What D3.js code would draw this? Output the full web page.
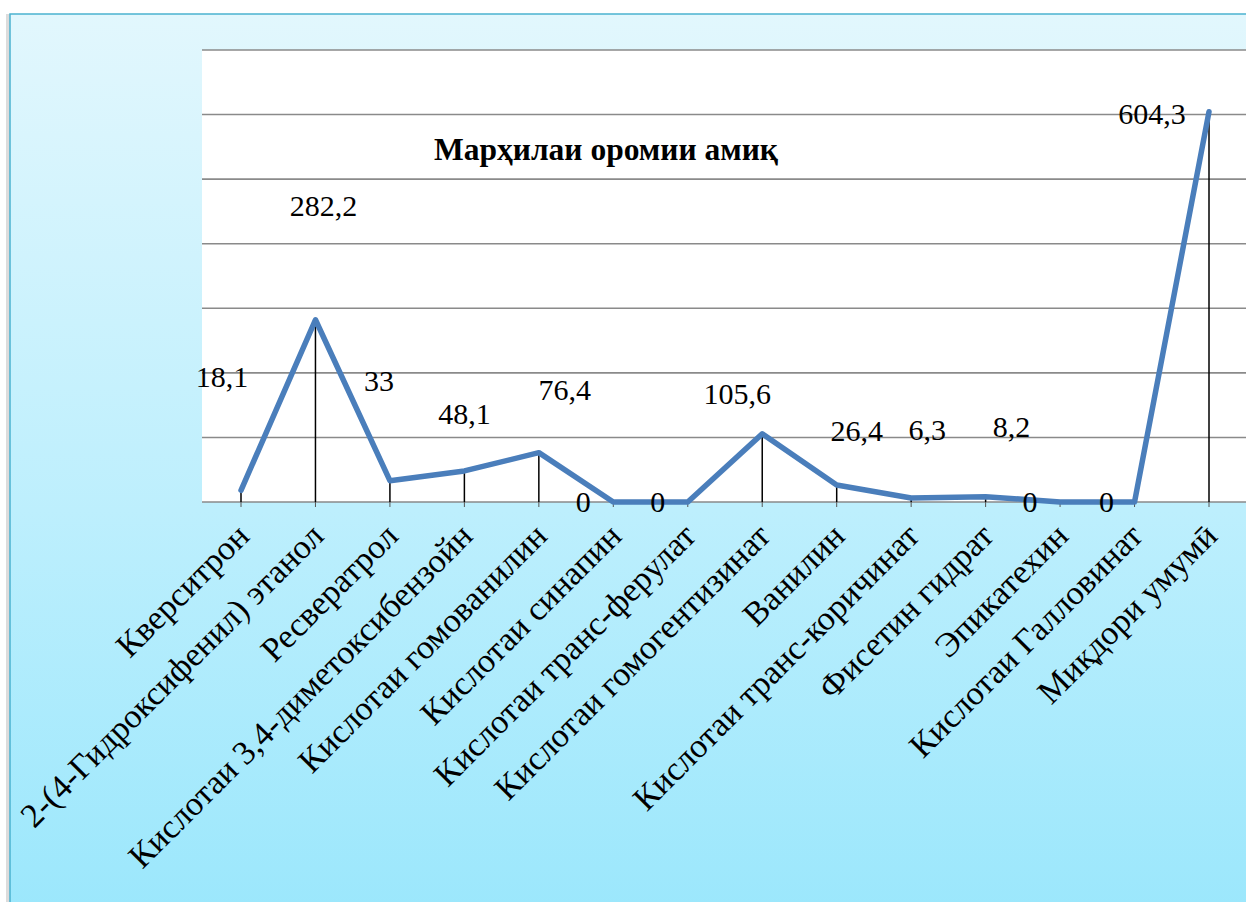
<!DOCTYPE html>
<html><head><meta charset="utf-8">
<script src="https://cdn.jsdelivr.net/npm/d3@7"></script>
<style>body{margin:0;background:#fff;}svg{display:block;}</style>
</head><body>
<svg id="c" width="1246" height="902" style="font-family:'Liberation Serif'"></svg>
<script>
const categories = ["Кверситрон","2-(4-Гидроксифенил) этанол","Ресвератрол","Кислотаи 3,4-диметоксибензойн","Кислотаи гомованилин","Кислотаи синапин","Кислотаи транс-ферулат","Кислотаи гомогентизинат","Ванилин","Кислотаи транс-коричинат","Фисетин  гидрат","Эпикатехин","Кислотаи Галловинат","Миқдори умумӣ"];
const values = [18.1,282.2,33,48.1,76.4,0,0,105.6,26.4,6.3,8.2,0,0,604.3];
const valueLabels = ["18,1","282,2","33","48,1","76,4","0","0","105,6","26,4","6,3","8,2","0","0","604,3"];
const yTicks = [0,100,200,300,400,500,600,700];
const title = "Марҳилаи оромии амиқ";
// label offsets from each point (dx, dy) in px
const labelOffsets = [[-19,-113],[8,-114],[-11,-100],[0,-57],[26,-63],[-30,0],[-30,0],[-25,-40],[20,-54],[16,-68],[26,-70],[-30,0],[-28,0],[-57,2]];

const svg = d3.select("#c");
const W = 1246, H = 902;
const plot = {left: 202, right: 1247, top: 50, bottom: 502};

const x = d3.scalePoint().domain(categories).range([plot.left+39, plot.right-38]);
const y = d3.scaleLinear().domain([0,700]).range([plot.bottom, plot.top]);

const defs = svg.append("defs");
const grad = defs.append("linearGradient").attr("id","bgGrad").attr("x1",0).attr("y1",0).attr("x2",0).attr("y2",1);
grad.append("stop").attr("offset","0%").attr("stop-color","#e2f7fd");
grad.append("stop").attr("offset","55%").attr("stop-color","#bdeffd");
grad.append("stop").attr("offset","100%").attr("stop-color","#9be7fc");

// soft shadow left of frame
svg.append("rect").attr("x",6).attr("y",14).attr("width",4).attr("height",H).attr("fill","#dcdcdc");
svg.append("rect").attr("x",10).attr("y",14).attr("width",W).attr("height",H)
  .attr("fill","url(#bgGrad)").attr("stroke","#4bb3cf").attr("stroke-width",1.5);

svg.append("rect").attr("x",plot.left).attr("y",plot.top).attr("width",plot.right-plot.left).attr("height",plot.bottom-plot.top).attr("fill","#fff");

// gridlines
svg.append("g").selectAll("line").data(yTicks).join("line")
  .attr("x1",plot.left).attr("x2",plot.right)
  .attr("y1",d=>y(d)).attr("y2",d=>y(d))
  .attr("stroke","#8a8a8a").attr("stroke-width",1.6);

// tick marks below baseline
svg.append("g").selectAll("line").data(categories).join("line")
  .attr("x1",d=>x(d)).attr("x2",d=>x(d))
  .attr("y1",y(0)).attr("y2",y(0)+5)
  .attr("stroke","#555").attr("stroke-width",1);

// drop lines
svg.append("g").selectAll("line").data(values).join("line")
  .attr("x1",(d,i)=>x(categories[i])).attr("x2",(d,i)=>x(categories[i]))
  .attr("y1",d=>y(d)).attr("y2",y(0))
  .attr("stroke","#000").attr("stroke-width",1.5);

// series line
const line = d3.line().x((d,i)=>x(categories[i])).y(d=>y(d));
svg.append("path").datum(values).attr("d",line)
  .attr("fill","none").attr("stroke","#4a7ebb").attr("stroke-width",5.5)
  .attr("stroke-linejoin","round").attr("stroke-linecap","round");

// data labels
svg.selectAll("text.val").data(values).join("text").attr("class","val")
  .attr("x",(d,i)=>x(categories[i])+labelOffsets[i][0])
  .attr("y",(d,i)=>y(d)+labelOffsets[i][1]+10)
  .attr("text-anchor","middle")
  .style("font-family","Liberation Serif")
  .attr("font-size",30).attr("fill","#000")
  .text((d,i)=>valueLabels[i]);

// category labels
svg.selectAll("text.cat").data(categories).join("text").attr("class","cat")
  .attr("transform",d=>`translate(${x(d)+10},${y(0)+36}) rotate(-45)`)
  .attr("text-anchor","end")
  .style("font-family","Liberation Serif")
  .attr("font-size",34).attr("fill","#000")
  .text(d=>d);

// title
svg.append("text").attr("x",606).attr("y",160).attr("text-anchor","middle")
  .style("font-family","Liberation Serif")
  .attr("font-weight","bold").attr("font-size",31.5).attr("fill","#000")
  .text(title);
</script>
</body></html>
